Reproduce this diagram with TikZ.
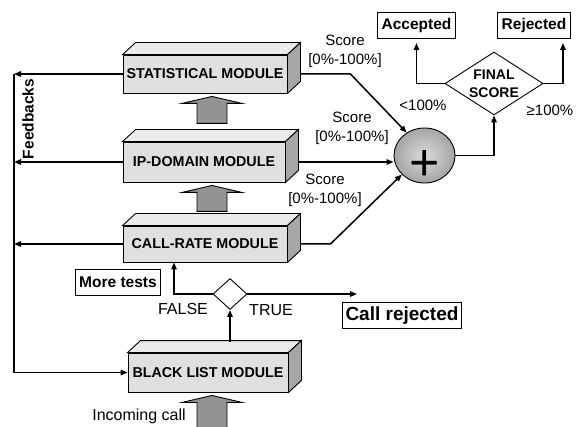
\documentclass[tikz,border=0pt]{standalone}
\usepackage{fontspec}
\setmainfont{Liberation Sans}
\definecolor{ModuleFront}{HTML}{E0E0E0}
\definecolor{ModuleTop}{HTML}{EBEBEB}
\definecolor{ModuleSide}{HTML}{A6A6A6}
\definecolor{ArrowGray}{HTML}{939393}
\definecolor{SumLight}{HTML}{DCDCDC}
\definecolor{SumDark}{HTML}{A4A4A4}
\usetikzlibrary{positioning, arrows.meta, shapes.geometric, calc}

\begin{document}
\begin{tikzpicture}[x=1pt, y=-1pt,
    module/.style={draw, line width=0.9pt, fill=ModuleFront, inner sep=0pt,
      font=\fontsize{14.3}{16}\selectfont\bfseries},
    tagbox/.style={draw, line width=1pt, fill=white, inner xsep=4pt, inner ysep=0pt,
      minimum height=26pt, font=\fontsize{15.5}{18}\selectfont\bfseries},
    note/.style={font=\fontsize{15}{19}\selectfont, align=center, inner sep=0pt},
    flow/.style={line width=1.5pt, -{Triangle[length=7pt,width=5.5pt]}},
    wire/.style={line width=1.5pt},
    decision/.style={diamond, draw, line width=0.9pt, fill=white, inner sep=0pt},
    blockarr/.style={draw, line width=0.9pt, fill=ArrowGray},
    sumnode/.style={ellipse, draw, line width=0.9pt, minimum width=61pt, minimum height=55pt,
      inner sep=0pt, inner color=SumLight, outer color=SumDark}]
  \useasboundingbox (0,0) rectangle (577,427);

  % modules, front faces
  \node[module, minimum width=164pt, minimum height=38pt] (stat) at (205,74) {STATISTICAL MODULE};
  \node[module, minimum width=162pt, minimum height=40pt] (ip) at (204,162) {IP-DOMAIN MODULE};
  \node[module, minimum width=164pt, minimum height=36pt] (rate) at (205,244) {CALL-RATE MODULE};
  \node[module, minimum width=160pt, minimum height=39pt] (bl) at (208,372.5) {BLACK LIST MODULE};

  % top and side faces
  \foreach \m in {stat,ip,rate,bl}{
    \draw[line width=0.9pt, fill=ModuleTop] (\m.north west) -- ++(13,-12)
      -- ($(\m.north east)+(13,-12)$) -- (\m.north east) -- cycle;
    \draw[line width=0.9pt, fill=ModuleSide] (\m.north east) -- ++(13,-12)
      -- ($(\m.south east)+(13,-12)$) -- (\m.south east) -- cycle;
  }

  % gray block arrows
  \foreach \m/\dx/\len in {stat/7/27, ip/8/26, bl/4/40}{
    \draw[blockarr] ($(\m.south)+(\dx,3)$) -- ++(30,7) -- ++(-15,0) -- ++(0,{\len-7})
      -- ++(-30,0) -- ++(0,{7-\len}) -- ++(-15,0) -- cycle;
  }

  % feedbacks
  \coordinate (fbtop) at (14,74);
  \coordinate (fbbot) at (fbtop |- bl.west);
  \draw[wire] (fbtop) -- (fbbot);
  \draw[flow] (fbbot) -- (bl.west);
  \foreach \m in {stat,ip,rate}
    \draw[flow] (\m.west) -- (\m.west -| fbtop);
  \node[rotate=90, inner sep=0pt, font=\fontsize{15.5}{18}\selectfont\bfseries] (fblabel) at (28,119) {Feedbacks};

  % black list test
  \node[decision, minimum width=34pt, minimum height=31pt] (bltest) at (230,294) {};
  \coordinate (bltop) at ($(bl.north)+(0,-11)$);
  \coordinate (trueend) at (357,294);
  \draw[flow] (bltest.south |- bltop) -- (bltest.south);
  \draw[flow] (bltest.west) -| ([xshift=-31pt]rate.south);
  \draw[flow] (bltest.east) -- (trueend);
  \node[note, font=\fontsize{16}{19}\selectfont] (falselbl) at (183,309) {FALSE};
  \node[note, font=\fontsize{16}{19}\selectfont] (truelbl) at (271,310) {TRUE};
  \node[tagbox] (moretests) at (118,282) {More tests};
  \node[tagbox, inner xsep=3pt, font=\fontsize{19}{22}\selectfont\bfseries] (callrej) at (402,315.5) {Call rejected};
  \node[note, font=\fontsize{16}{19}\selectfont, anchor=base] (incoming) at (139,420) {Incoming call};

  % scoring
  \node[sumnode, label={[font=\fontsize{52}{52}\selectfont, yshift=-9.5pt]center:+}] (plus) at (424.5,155.5) {};
  \node[decision, minimum width=98pt, minimum height=63pt,
    label={[font=\fontsize{14}{18}\selectfont\bfseries, align=center]center:FINAL\\SCORE}] (fd) at (494,83.5) {};
  \node[tagbox] (acc) at (416.5,25.5) {Accepted};
  \node[tagbox] (rej) at (534,25.5) {Rejected};

  \draw[flow] ([xshift=13pt]stat.east) -- ++(50,0) -- (plus.128);
  \draw[flow] ([xshift=13pt]ip.east) -- (ip.east -| plus.west);
  \draw[flow] ([xshift=13pt]rate.east) -- ++(30,0) -- (plus.220);
  \draw[flow] (plus.east) -| (fd.south);
  \draw[flow, shorten >=4pt] (fd.west) -| (acc.south);
  \draw[flow, shorten >=4pt] (fd.east) -| ([xshift=29pt]rej.south);

  \node[note] (score1) at (345,51) {Score\\{[0\%-100\%]}};
  \node[note] (score2) at (352,128) {Score\\{[0\%-100\%]}};
  \node[note] (score3) at (325,190) {Score\\{[0\%-100\%]}};
  \node[note] (below) at (423,105) {<100\%};
  \node[note] (above) at (550,110) {≥100\%};
\end{tikzpicture}
\end{document}
